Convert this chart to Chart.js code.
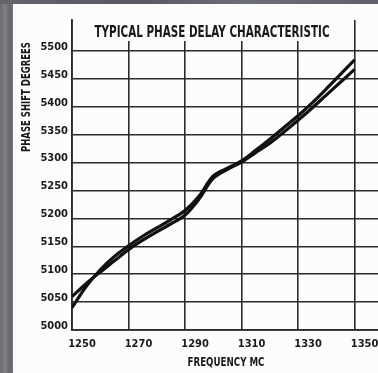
<!DOCTYPE html>
<html>
<head>
<meta charset="utf-8">
<script src="https://cdn.jsdelivr.net/npm/chart.js@4.4.1/dist/chart.umd.min.js"></script>
<style>
  html, body { margin: 0; padding: 0; width: 378px; height: 373px; overflow: hidden; }
  body { position: relative; background: linear-gradient(90deg, #6c6c72 0, #808086 5px, #66666c 10px, #74747a 13px); }
  #topEdge { position: absolute; left: 0; top: 0; width: 378px; height: 4px;
             background: linear-gradient(90deg, #67646c, #5a5664 35%, #6b7074 65%, #625f68); }
  #sheet { position: absolute; left: 13px; top: 4px; right: 0; bottom: 0; background: #fcfcfc; }
  canvas { position: absolute; left: 0; top: 0; }
</style>
</head>
<body>
<div id="topEdge"></div>
<div id="sheet"></div>
<canvas id="chart" width="378" height="373"></canvas>
<script>
// Frequency (MC) and measured phase shift (degrees) for the two traces
const frequencies = [1250, 1255, 1260, 1265, 1270, 1275, 1280, 1285, 1290, 1295, 1300,
                     1305, 1310, 1315, 1320, 1325, 1330, 1335, 1340, 1345, 1350];
const traceA = [5060, 5083, 5104, 5124, 5144, 5161, 5176, 5190, 5206, 5235, 5272,
                5288, 5301, 5318, 5335, 5355, 5376, 5398, 5421, 5444, 5467];
const traceB = [5040, 5078, 5108, 5132, 5151, 5168, 5183, 5198, 5214, 5240, 5276,
                5290, 5303, 5322, 5342, 5363, 5384, 5407, 5432, 5458, 5484];

const xTickValues = [1250, 1270, 1290, 1310, 1330, 1350];
const yTickValues = [5000, 5050, 5100, 5150, 5200, 5250, 5300, 5350, 5400, 5450, 5500];

const chartTitle = 'TYPICAL PHASE DELAY CHARACTERISTIC';
const yTitle = 'PHASE SHIFT DEGREES';
const xTitle = 'FREQUENCY MC';

const INK = '#1a1a1a';
const PAPER = '#fcfcfc';
const FAMILY = "'DejaVu Sans Condensed', 'Liberation Sans Narrow', sans-serif";

const toPoints = values => values.map((v, i) => ({ x: frequencies[i], y: v }));
const plainNumber = v => String(v);

// Draws a line of text squeezed horizontally to a given width
function drawFitted(ctx, text, x, y, width, font) {
  ctx.save();
  ctx.font = font;
  const measured = ctx.measureText(text).width;
  ctx.translate(x, y);
  ctx.scale(Math.min(1, width / measured), 1);
  ctx.textAlign = 'center';
  ctx.textBaseline = 'middle';
  ctx.fillStyle = INK;
  ctx.fillText(text, 0, 0);
  ctx.restore();
}

// Heading sits inside the grid on a blank strip; vertical axis caption sits near the top
const captions = {
  id: 'captions',
  afterDraw(chart) {
    const { ctx } = chart;
    ctx.save();
    ctx.fillStyle = PAPER;
    ctx.fillRect(91, 20, 244, 21);
    drawFitted(ctx, chartTitle, 212, 33, 235, 'bold 15px ' + FAMILY);
    drawFitted(ctx, xTitle, 226, 363, 77, 'bold 13px ' + FAMILY);
    ctx.translate(27, 97);
    ctx.rotate(-Math.PI / 2);
    drawFitted(ctx, yTitle, 0, 0, 110, 'bold 13px ' + FAMILY);
    ctx.restore();
  }
};

const lineStyle = {
  borderColor: '#111',
  borderWidth: 3.2,
  pointRadius: 0,
  tension: 0.35,
  fill: false
};

const tickFont = { family: FAMILY, size: 11, weight: 'bold' };

new Chart(document.getElementById('chart'), {
  type: 'line',
  data: {
    datasets: [
      Object.assign({ label: 'A', data: toPoints(traceA) }, lineStyle),
      Object.assign({ label: 'B', data: toPoints(traceB) }, lineStyle)
    ]
  },
  plugins: [captions],
  options: {
    responsive: false,
    devicePixelRatio: 1,
    animation: false,
    layout: { padding: { top: 20, right: 0, bottom: 0, left: 0 } },
    plugins: {
      legend: { display: false },
      tooltip: { enabled: false },
      title: { display: false }
    },
    scales: {
      x: {
        type: 'linear',
        min: 1250,
        max: 1358.3,
        afterBuildTicks: s => { s.ticks = xTickValues.map(v => ({ value: v })); },
        afterFit: s => { s.height = 43; },
        grid: { color: '#2a2a2a', lineWidth: 1.6, drawTicks: false },
        border: { color: '#2a2a2a', width: 1.8 },
        ticks: {
          color: INK,
          font: tickFont,
          padding: 8,
          labelOffset: 10,
          maxRotation: 0,
          autoSkip: false,
          callback: plainNumber
        }
      },
      y: {
        type: 'linear',
        min: 5000,
        max: 5555.6,
        afterBuildTicks: s => { s.ticks = yTickValues.map(v => ({ value: v })); },
        afterFit: s => { s.width = 72; },
        grid: { color: '#2a2a2a', lineWidth: 1.6, drawTicks: false },
        border: { color: '#2a2a2a', width: 1.8 },
        ticks: {
          color: INK,
          font: tickFont,
          padding: 4,
          labelOffset: -4,
          autoSkip: false,
          callback: plainNumber
        }
      }
    }
  }
});
</script>
</body>
</html>
